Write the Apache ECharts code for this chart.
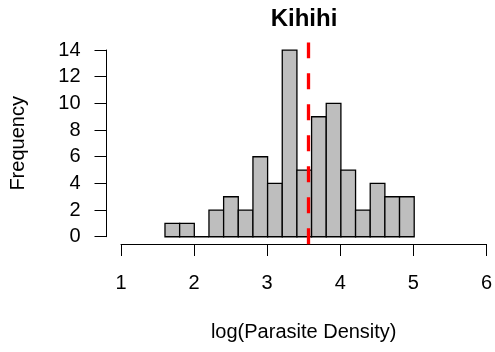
<!DOCTYPE html>
<html>
<head>
<meta charset="utf-8">
<script src="https://cdn.jsdelivr.net/npm/echarts@6/dist/echarts.min.js"></script>
<style>html,body{margin:0;padding:0;background:#fff}#c{width:495px;height:352px}</style>
</head>
<body>
<div id="c"></div>
<script>
var titleText = 'Kihihi';
var xLabel = 'log(Parasite Density)';
var yLabel = 'Frequency';
var binStarts = [1.6, 1.8, 2.0, 2.2, 2.4, 2.6, 2.8, 3.0, 3.2, 3.4, 3.6, 3.8, 4.0, 4.2, 4.4, 4.6, 4.8];
var binEnds   = [1.8, 2.0, 2.2, 2.4, 2.6, 2.8, 3.0, 3.2, 3.4, 3.6, 3.8, 4.0, 4.2, 4.4, 4.6, 4.8, 5.0];
var counts    = [1, 1, 0, 2, 3, 2, 6, 4, 14, 5, 9, 10, 5, 2, 4, 3, 3];
var meanValue = 3.565;
var xTicks = [1, 2, 3, 4, 5, 6];
var yTicks = [0, 2, 4, 6, 8, 10, 12, 14];

var FONT = 'Liberation Sans, Arial, Helvetica, sans-serif';
var histData = binStarts.map(function (s, i) { return [s, binEnds[i], counts[i]]; });

var chart = echarts.init(document.getElementById('c'), null, {renderer: 'canvas'});
chart.setOption({
  animation: false,
  backgroundColor: '#ffffff',
  textStyle: {fontFamily: FONT},
  graphic: [{
    type: 'text', x: 304, y: 19,
    style: {text: titleText, font: 'bold 24px ' + FONT, fill: '#000', align: 'center', verticalAlign: 'middle'}
  }],
  grid: [
    {left: 121, top: 42.6, width: 366.5, height: 201.6},
    {left: 121, top: 243, width: 366.5, height: 1},
    {left: 106.5, top: 50, width: 10, height: 186.7}
  ],
  xAxis: [
    {gridIndex: 0, type: 'value', min: 1, max: 6, show: false},
    {gridIndex: 1, type: 'value', min: 1, max: 6, interval: 1, position: 'bottom',
      axisLine: {show: true, lineStyle: {color: '#000', width: 1}},
      axisTick: {show: true, length: 12, inside: false, lineStyle: {color: '#000', width: 1}},
      axisLabel: {show: true, margin: 29, fontSize: 20, color: '#000', fontFamily: FONT,
        formatter: function (v) { return xTicks.indexOf(v) >= 0 ? String(v) : ''; }},
      splitLine: {show: false},
      name: xLabel, nameLocation: 'middle', nameGap: 78,
      nameTextStyle: {fontSize: 20, color: '#000', fontFamily: FONT}
    },
    {gridIndex: 2, type: 'value', show: false}
  ],
  yAxis: [
    {gridIndex: 0, type: 'value', min: -0.56, max: 14.56, show: false},
    {gridIndex: 1, type: 'value', show: false},
    {gridIndex: 2, type: 'value', min: 0, max: 14, interval: 2, position: 'left',
      axisLine: {show: true, lineStyle: {color: '#000', width: 1}},
      axisTick: {show: true, length: 12, inside: false, lineStyle: {color: '#000', width: 1}},
      axisLabel: {show: true, margin: 26, fontSize: 20, color: '#000', fontFamily: FONT,
        formatter: function (v) { return yTicks.indexOf(v) >= 0 ? String(v) : ''; }},
      splitLine: {show: false},
      name: yLabel, nameLocation: 'middle', nameGap: 78.5, nameRotate: 90,
      nameTextStyle: {fontSize: 20, color: '#000', fontFamily: FONT}
    }
  ],
  series: [{
    type: 'custom',
    xAxisIndex: 0, yAxisIndex: 0,
    data: histData,
    renderItem: function (params, api) {
      var p0 = api.coord([api.value(0), api.value(2)]);
      var p1 = api.coord([api.value(1), 0]);
      return {
        type: 'rect',
        shape: {x: p0[0], y: p0[1], width: p1[0] - p0[0], height: p1[1] - p0[1]},
        style: {fill: '#BEBEBE', stroke: '#000', lineWidth: 1.3}
      };
    },
    markLine: {
      silent: true, symbol: ['none', 'none'], label: {show: false},
      lineStyle: {color: '#FF0000', width: 3.3, type: [16, 15]},
      data: [{xAxis: meanValue}]
    },
    z: 2
  }]
});
</script>
</body>
</html>
